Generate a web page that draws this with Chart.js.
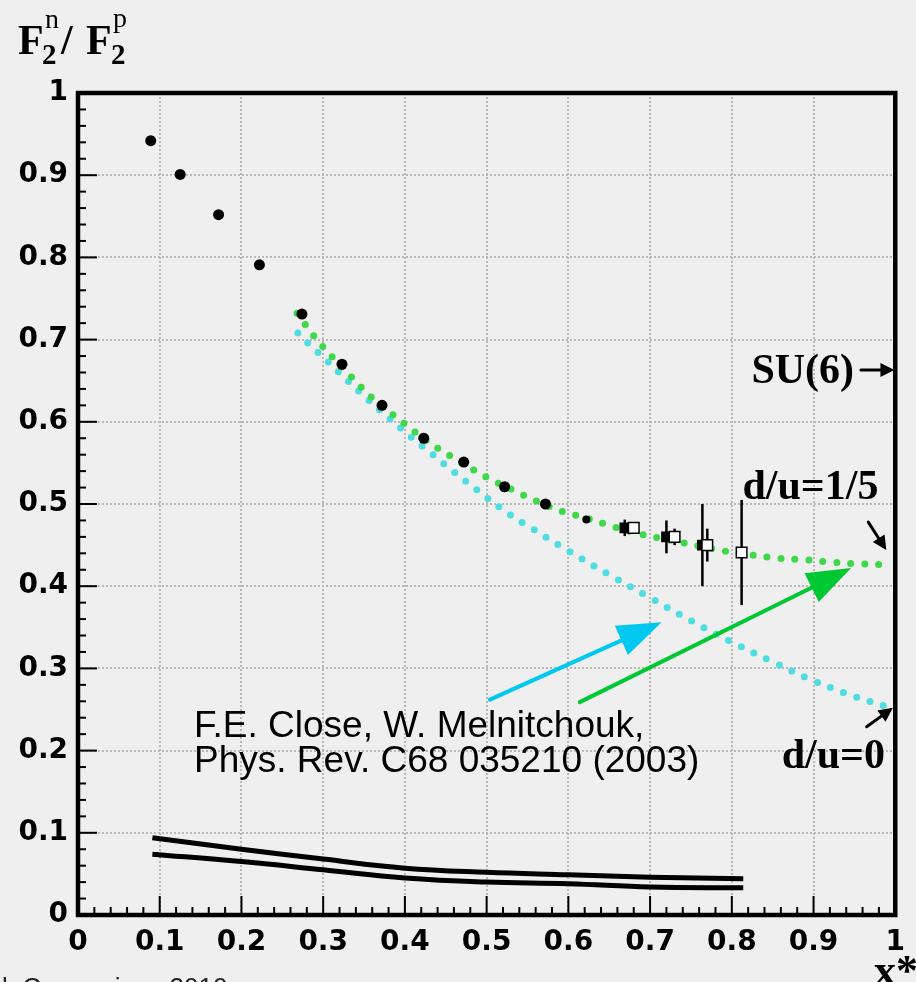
<!DOCTYPE html>
<html lang="en">
<head>
  <meta charset="UTF-8" />
  <title>F2n / F2p</title>
  <script src="https://cdn.jsdelivr.net/npm/chart.js"></script>
  <style>
    html, body { margin: 0; padding: 0; background: #efefef; }
    #wrap { width: 916px; height: 982px; position: relative; }
  </style>
</head>
<body>
  <div id="wrap"><canvas id="ratioChart"></canvas></div>

  <script>
    // measured points (black circles)
    const dataX = [0.089, 0.125, 0.172, 0.222, 0.274, 0.323, 0.372, 0.423, 0.472, 0.522, 0.572, 0.622];
    const dataY = [0.942, 0.901, 0.852, 0.791, 0.731, 0.670, 0.620, 0.580, 0.551, 0.521, 0.500, 0.481];

    // filled squares with errors
    const sqX = [0.669, 0.720, 0.764];
    const sqY = [0.471, 0.460, 0.450];
    const sqErr = [0.010, 0.020, 0.050];

    // open squares with errors
    const osX = [0.680, 0.730, 0.770, 0.812];
    const osY = [0.471, 0.460, 0.450, 0.441];
    const osErr = [0.000, 0.010, 0.020, 0.064];

    // d/u = 1/5 curve (green)
    const greenX = [0.268, 0.289, 0.311, 0.335, 0.359, 0.385, 0.412, 0.44, 0.47, 0.499, 0.53, 0.56, 0.592, 0.625, 0.656, 0.69, 0.725, 0.76, 0.79, 0.824, 0.857, 0.891, 0.925, 0.96, 0.995];
    const greenY = [0.732, 0.704, 0.679, 0.654, 0.630, 0.609, 0.588, 0.568, 0.550, 0.533, 0.518, 0.504, 0.491, 0.482, 0.472, 0.463, 0.456, 0.449, 0.443, 0.438, 0.434, 0.432, 0.429, 0.427, 0.426];

    // d/u = 0 curve (cyan)
    const cyanX = [0.269, 0.281, 0.306, 0.33, 0.355, 0.38, 0.407, 0.433, 0.46, 0.487, 0.527, 0.556, 0.6, 0.65, 0.7, 0.75, 0.8, 0.85, 0.9, 0.95, 0.995];
    const cyanY = [0.708, 0.696, 0.673, 0.650, 0.627, 0.605, 0.582, 0.561, 0.539, 0.518, 0.488, 0.470, 0.443, 0.414, 0.386, 0.358, 0.332, 0.308, 0.285, 0.266, 0.252];

    // systematic bands at the bottom
    const bandX = [0.091, 0.2, 0.3, 0.4, 0.5, 0.6, 0.7, 0.814];
    const bandHiY = [0.094, 0.080, 0.068, 0.057, 0.052, 0.049, 0.046, 0.044];
    const bandLoY = [0.074, 0.065, 0.055, 0.045, 0.040, 0.038, 0.034, 0.033];

    // arrows [x1, y1, x2, y2] in data units
    const arrowCyan = [0.504, 0.262, 0.714, 0.356];
    const arrowGreen = [0.614, 0.259, 0.946, 0.422];
    const arrowSU6 = [0.958, 0.663, 0.999, 0.663];
    const arrowFifth = [0.967, 0.478, 0.989, 0.444];
    const arrowZero = [0.965, 0.229, 0.997, 0.252];

    const labelTexts = ["SU(6)", "d/u=1/5", "d/u=0"];
    const labelX = [0.824, 0.813, 0.861];
    const labelY = [0.647, 0.506, 0.179];

    const citeLines = ["F.E. Close, W. Melnitchouk,", "Phys. Rev. C68 035210 (2003)"];
    const citeX = 0.142;
    const citeY = [0.216, 0.174];

    const tickVals = [0, 0.1, 0.2, 0.3, 0.4, 0.5, 0.6, 0.7, 0.8, 0.9, 1];

    const pts = (xs, ys) => xs.map((x, i) => ({ x: x, y: ys[i] }));

    function drawArrow(ctx, x1, y1, x2, y2, color, lw, headLen, headHalf) {
      const a = Math.atan2(y2 - y1, x2 - x1);
      const bx = x2 - headLen * Math.cos(a), by = y2 - headLen * Math.sin(a);
      ctx.save();
      ctx.strokeStyle = color;
      ctx.fillStyle = color;
      ctx.lineWidth = lw;
      ctx.lineCap = "round";
      ctx.beginPath();
      ctx.moveTo(x1, y1);
      ctx.lineTo(bx + 2 * Math.cos(a), by + 2 * Math.sin(a));
      ctx.stroke();
      ctx.beginPath();
      ctx.moveTo(x2, y2);
      ctx.lineTo(bx - headHalf * Math.sin(a), by + headHalf * Math.cos(a));
      ctx.lineTo(bx + headHalf * Math.sin(a), by - headHalf * Math.cos(a));
      ctx.closePath();
      ctx.fill();
      ctx.restore();
    }

    const decorations = {
      id: "decorations",
      beforeDraw(chart) {
        const ctx = chart.ctx;
        ctx.save();
        ctx.fillStyle = "#efefef";
        ctx.fillRect(0, 0, chart.width, chart.height);
        ctx.restore();
      },
      beforeDatasetsDraw(chart) {
        const ctx = chart.ctx, xs = chart.scales.x, ys = chart.scales.y;
        ctx.save();
        ctx.strokeStyle = "#000";
        ctx.lineWidth = 2.5;
        const bars = (X, Y, E) => X.forEach((x, i) => {
          if (!E[i]) return;
          const px = xs.getPixelForValue(x);
          ctx.beginPath();
          ctx.moveTo(px, ys.getPixelForValue(Y[i] + E[i]));
          ctx.lineTo(px, ys.getPixelForValue(Y[i] - E[i]));
          ctx.stroke();
        });
        bars(sqX, sqY, sqErr);
        bars(osX, osY, osErr);
        ctx.restore();
      },
      afterDatasetsDraw(chart) {
        const ctx = chart.ctx, xs = chart.scales.x, ys = chart.scales.y;
        const arr = (a, color, lw, hl, hh) => drawArrow(ctx,
          xs.getPixelForValue(a[0]), ys.getPixelForValue(a[1]),
          xs.getPixelForValue(a[2]), ys.getPixelForValue(a[3]), color, lw, hl, hh);
        arr(arrowCyan, "#00c8f0", 4, 44, 16);
        arr(arrowGreen, "#00c832", 4, 44, 16);
        arr(arrowSU6, "#000", 3, 14, 7);
        arr(arrowFifth, "#000", 3, 14, 7);
        arr(arrowZero, "#000", 3, 14, 7);
      },
      afterDraw(chart) {
        const ctx = chart.ctx, xs = chart.scales.x, ys = chart.scales.y;
        const a = chart.chartArea;
        ctx.save();
        // ticks (major + minor) on left and bottom, inside the frame
        ctx.strokeStyle = "#000";
        ctx.lineWidth = 2;
        for (let k = 0; k <= 50; k++) {
          const v = k / 50;
          const len = k % 5 === 0 ? 19 : 8;
          const py = ys.getPixelForValue(v);
          ctx.beginPath();
          ctx.moveTo(a.left, py);
          ctx.lineTo(a.left + len, py);
          ctx.stroke();
          const px = xs.getPixelForValue(v);
          ctx.beginPath();
          ctx.moveTo(px, a.bottom);
          ctx.lineTo(px, a.bottom - len);
          ctx.stroke();
        }
        // frame
        ctx.lineWidth = 4.5;
        ctx.strokeRect(a.left, a.top, a.right - a.left, a.bottom - a.top);

        // labels on the right
        ctx.fillStyle = "#000";
        ctx.textBaseline = "alphabetic";
        ctx.textAlign = "left";
        ctx.font = "bold 42px 'Liberation Serif'";
        labelTexts.forEach((t, i) => {
          ctx.fillText(t, xs.getPixelForValue(labelX[i]), ys.getPixelForValue(labelY[i]));
        });

        // citation
        ctx.font = "37px 'Liberation Sans'";
        citeLines.forEach((t, i) => {
          ctx.fillText(t, xs.getPixelForValue(citeX), ys.getPixelForValue(citeY[i]));
        });

        // y title F2n / F2p
        ctx.font = "bold 42px 'Liberation Serif'";
        ctx.fillText("F", 18, 54);
        ctx.fillText("/", 61, 54);
        ctx.fillText("F", 86, 54);
        ctx.font = "bold 29px 'Liberation Serif'";
        ctx.fillText("2", 42, 64);
        ctx.fillText("2", 111, 64);
        ctx.font = "28px 'Liberation Serif'";
        ctx.fillText("n", 45, 28);
        ctx.fillText("p", 113, 27);

        // x title
        ctx.font = "bold 44px 'Liberation Serif'";
        ctx.textAlign = "right";
        ctx.fillText("x*", 918, 985);

        // cut-off footer text
        ctx.textAlign = "left";
        ctx.fillStyle = "#222";
        ctx.font = "26px 'Liberation Sans'";
        ctx.fillText("k Comparison 2010", 2, 996);
        ctx.restore();
      }
    };

    new Chart(document.getElementById("ratioChart"), {
      type: "scatter",
      data: {
        datasets: [
          {
            label: "data",
            data: pts(dataX, dataY),
            backgroundColor: "#000",
            borderColor: "#000",
            pointRadius: c => (c.dataIndex === dataX.length - 1 ? 4 : 5.5),
            pointBorderWidth: 0
          },
          {
            label: "open squares",
            data: pts(osX, osY),
            pointStyle: "rect",
            pointRadius: 7.5,
            backgroundColor: "#fff",
            borderColor: "#000",
            pointBorderWidth: 1.5
          },
          {
            label: "filled squares",
            data: pts(sqX, sqY),
            pointStyle: "rect",
            pointRadius: 7.5,
            backgroundColor: "#000",
            borderColor: "#000",
            pointBorderWidth: 0
          },
          {
            label: "d/u=1/5",
            data: pts(greenX, greenY),
            showLine: true,
            pointRadius: 0,
            borderColor: "#3fd84a",
            borderWidth: 7,
            borderDash: [0, 14],
            borderCapStyle: "round",
            tension: 0.4
          },
          {
            label: "d/u=0",
            data: pts(cyanX, cyanY),
            showLine: true,
            pointRadius: 0,
            borderColor: "#4fdde2",
            borderWidth: 7,
            borderDash: [0, 14],
            borderCapStyle: "round",
            tension: 0.4
          },
          {
            label: "band hi",
            data: pts(bandX, bandHiY),
            showLine: true,
            pointRadius: 0,
            borderColor: "#000",
            borderWidth: 5,
            tension: 0.4
          },
          {
            label: "band lo",
            data: pts(bandX, bandLoY),
            showLine: true,
            pointRadius: 0,
            borderColor: "#000",
            borderWidth: 5,
            tension: 0.4
          }
        ]
      },
      options: {
        responsive: true,
        maintainAspectRatio: false,
        animation: false,
        layout: { padding: { top: 93, right: 20, left: 0, bottom: 0 } },
        plugins: { legend: { display: false }, tooltip: { enabled: false } },
        scales: {
          x: {
            type: "linear",
            min: 0,
            max: 1,
            afterBuildTicks: s => { s.ticks = tickVals.map(v => ({ value: v })); },
            afterFit: s => { s.height = 67; },
            ticks: {
              padding: 11,
              color: "#000",
              font: { family: "DejaVu Sans", weight: "bold", size: 28 },
              callback: v => String(Math.round(v * 10) / 10)
            },
            grid: { color: "#b8b8b8", lineWidth: 2, drawTicks: false },
            border: { display: false, dash: [2, 2] }
          },
          y: {
            type: "linear",
            min: 0,
            max: 1,
            afterBuildTicks: s => { s.ticks = tickVals.map(v => ({ value: v })); },
            afterFit: s => { s.width = 78; },
            ticks: {
              padding: 10,
              color: "#000",
              font: { family: "DejaVu Sans", weight: "bold", size: 28 },
              callback: v => String(Math.round(v * 10) / 10)
            },
            grid: { color: "#b8b8b8", lineWidth: 2, drawTicks: false },
            border: { display: false, dash: [2, 2] }
          }
        }
      },
      plugins: [decorations]
    });
  </script>
</body>
</html>
